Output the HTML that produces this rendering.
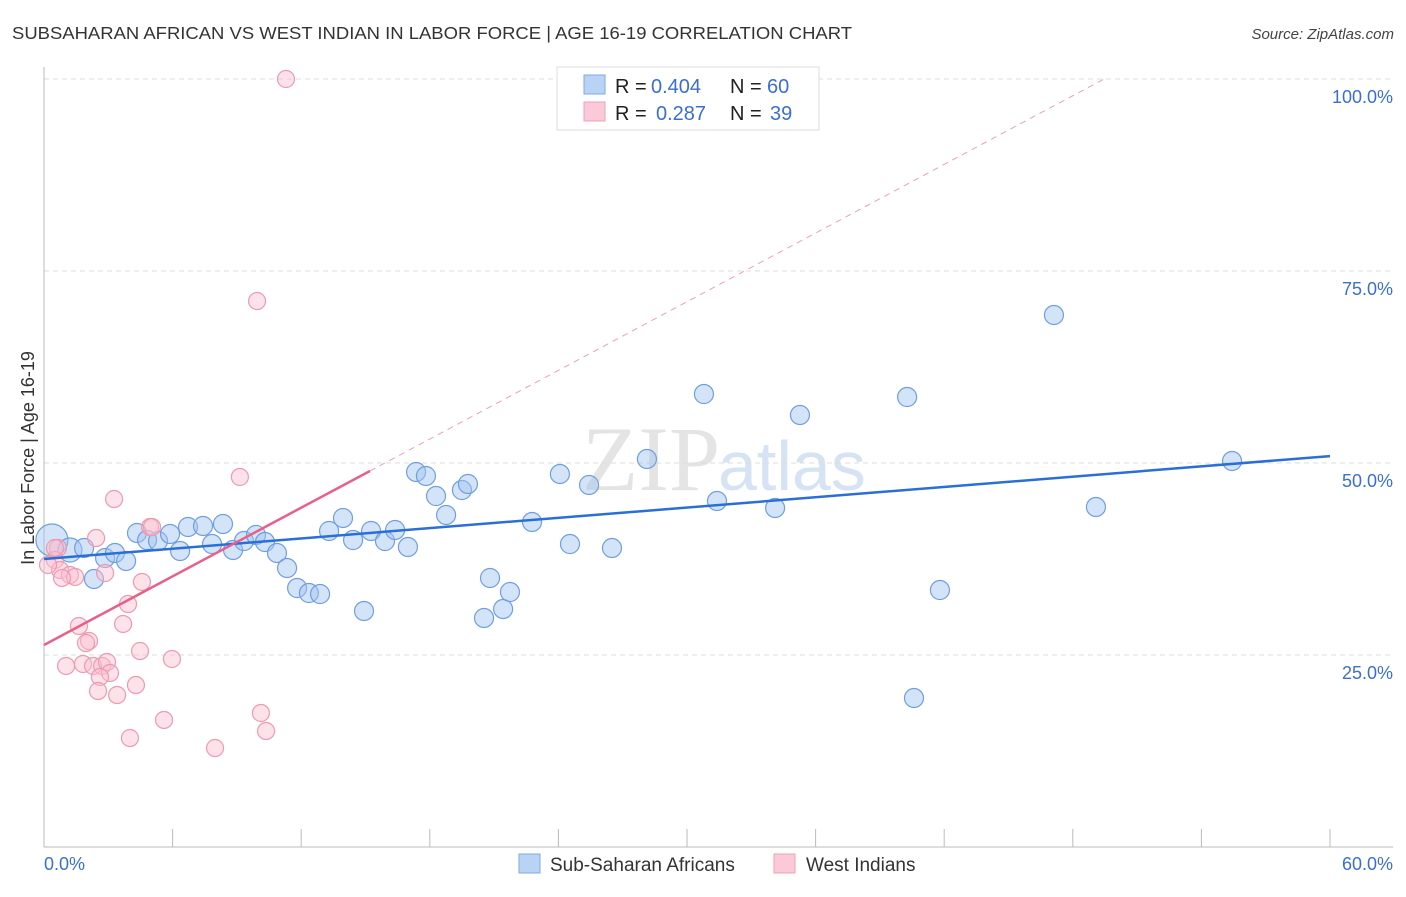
<!DOCTYPE html>
<html><head><meta charset="utf-8"><style>
body{margin:0;background:#fff;font-family:"Liberation Sans",sans-serif;}
</style></head><body>
<svg id="chart" width="1406" height="892" xmlns="http://www.w3.org/2000/svg" font-family="Liberation Sans, sans-serif">
<text x="12" y="39" font-size="17.5" fill="#333" textLength="840" lengthAdjust="spacingAndGlyphs">SUBSAHARAN AFRICAN VS WEST INDIAN IN LABOR FORCE | AGE 16-19 CORRELATION CHART</text>
<text x="1394" y="39" font-size="15" fill="#444" font-style="italic" text-anchor="end">Source: ZipAtlas.com</text>
<text x="720" y="490" font-size="92" fill="#e4e4e4" text-anchor="end" font-family="Liberation Serif, serif">ZIP</text>
<text x="718" y="490" font-size="70" fill="#d6e3f4">atlas</text>
<text transform="translate(34,458) rotate(-90)" font-size="18" fill="#333" text-anchor="middle">In Labor Force | Age 16-19</text>
<g id="grid"></g><g id="ticks"></g><g id="pts"></g><g id="lines"></g>
<g>
<rect x="557" y="67" width="262" height="63" fill="#fff" stroke="#ddd"/>
<rect x="584" y="75" width="21" height="19" fill="#b9d3f5" stroke="#7ea8e6"/>
<rect x="584" y="102" width="21" height="19" fill="#fbc9d7" stroke="#f0a0b7"/>
<text x="615" y="93" font-size="20" fill="#222">R =</text>
<text x="651" y="93" font-size="20" fill="#3a6fd0">0.404</text>
<text x="730" y="93" font-size="20" fill="#222">N =</text>
<text x="767" y="93" font-size="20" fill="#3a6fd0">60</text>
<text x="615" y="120" font-size="20" fill="#222">R =</text>
<text x="656" y="120" font-size="20" fill="#3a6fd0">0.287</text>
<text x="730" y="120" font-size="20" fill="#222">N =</text>
<text x="770" y="120" font-size="20" fill="#3a6fd0">39</text>
</g>
<g>
<rect x="519" y="854" width="21" height="19" fill="#b9d3f5" stroke="#7ea8e6"/>
<text x="550" y="871" font-size="19" fill="#333">Sub-Saharan Africans</text>
<rect x="774" y="854" width="21" height="19" fill="#fbc9d7" stroke="#f0a0b7"/>
<text x="806" y="871" font-size="19" fill="#333">West Indians</text>
</g>
</svg>
<script>
const yTicks=[25,50,75,100];
const yTickLabels=["25.0%","50.0%","75.0%","100.0%"];
const xTicks=[0,6,12,18,24,30,36,42,48,54,60];
const blueX=[0.37,1.21,1.87,2.33,2.85,3.31,3.83,4.34,4.81,5.32,5.88,6.35,6.72,7.42,7.84,8.35,8.82,9.33,9.89,10.31,10.87,11.34,11.81,12.36,12.88,13.30,13.95,14.42,14.93,15.26,15.91,16.38,16.98,17.36,17.82,18.29,18.76,19.50,19.78,20.53,20.81,21.42,21.74,22.77,24.07,24.54,25.43,26.50,28.13,30.79,31.40,34.11,35.27,40.27,40.59,41.80,47.12,49.08,55.43];
const blueY=[39.97,38.67,38.93,34.90,37.63,38.28,37.24,40.89,39.97,39.84,40.76,38.54,41.67,41.80,39.45,42.06,38.67,39.84,40.63,39.71,38.28,36.33,33.72,33.07,32.94,41.15,42.84,39.97,30.73,41.15,39.84,41.28,39.06,48.83,48.31,45.70,43.23,46.48,47.27,29.82,35.03,30.99,33.20,42.32,48.57,39.45,47.14,38.93,50.52,58.98,45.05,44.14,56.25,58.59,19.40,33.46,69.27,44.27,50.26];
const pinkX=[11.29,9.94,9.14,3.27,4.95,2.43,0.65,0.51,0.75,1.21,1.45,0.84,2.85,4.57,3.92,1.63,2.10,1.96,3.69,4.48,5.97,1.03,1.82,2.29,2.71,2.94,3.08,2.61,2.52,3.41,4.29,5.60,10.12,10.36,4.01,7.98,0.19,5.04,0.51];
const pinkY=[100,71.09,48.18,45.31,41.67,40.23,38.93,37.37,36.07,35.42,35.16,35.03,35.68,34.51,31.64,28.78,26.82,26.56,29.04,25.52,24.48,23.57,23.83,23.57,23.57,24.09,22.66,22.14,20.31,19.79,21.09,16.54,17.45,15.10,14.19,12.89,36.72,41.67,38.93];
const blueFit=[37.5,50.9];
const pinkFit=[26.3,1.49];
const NS="http://www.w3.org/2000/svg";
const sx=v=>44+v/60*1286, sy=v=>847-v*7.68;
function mk(t,a,p){const e=document.createElementNS(NS,t);for(const k in a)e.setAttribute(k,a[k]);p.appendChild(e);return e;}
const grid=document.getElementById('grid'),ticks=document.getElementById('ticks'),pts=document.getElementById('pts'),lines=document.getElementById('lines');
yTicks.forEach((v,i)=>{
 const l=mk('line',{x1:44,x2:1393,y1:sy(v),y2:sy(v),stroke:'#ddd','stroke-dasharray':'5,4'},grid);
 
 
 const t=mk('text',{x:1393,y:sy(v)+24,'font-size':18,fill:'#3a6fd0','text-anchor':'end'},grid);
 t.textContent=yTickLabels[i];
 
 
});
const ax=mk('line',{x1:44,x2:44,y1:67,y2:847,stroke:'#bbb'},ticks);


const bx=mk('line',{x1:44,x2:1393,y1:847,y2:847,stroke:'#bbb'},ticks);


xTicks.forEach(v=>{
 const l=mk('line',{x1:sx(v),x2:sx(v),y1:829,y2:847,stroke:'#bbb'},ticks);
 
 
});
const x0=mk('text',{x:44,y:870,'font-size':18,fill:'#3a6fd0'},ticks);x0.textContent='0.0%';


const x1=mk('text',{x:1393,y:870,'font-size':18,fill:'#3a6fd0','text-anchor':'end'},ticks);x1.textContent='60.0%';


blueX.forEach((x,i)=>{
 const r=i===0?16:(i===1?12:9.5);
 const c=mk('circle',{cx:sx(x),cy:sy(blueY[i]),r:r,fill:'rgba(160,195,240,0.45)',stroke:'#6f9ee0','stroke-width':1.2},pts);
 
 
});
pinkX.forEach((x,i)=>{
 const c=mk('circle',{cx:sx(x),cy:sy(pinkY[i]),r:8.5,fill:'rgba(250,190,208,0.45)',stroke:'#ec9ab3','stroke-width':1.2},pts);
 
 
});
const bl=mk('line',{x1:sx(0),y1:sy(blueFit[0]),x2:sx(60),y2:sy(blueFit[1]),stroke:'#2a6fd6','stroke-width':2.5},lines);


const xEnd=15.21, xTop=(100-pinkFit[0])/pinkFit[1];
const pl=mk('line',{x1:sx(0),y1:sy(pinkFit[0]),x2:sx(xEnd),y2:sy(pinkFit[0]+pinkFit[1]*xEnd),stroke:'#e8608a','stroke-width':2.5},lines);


const pd=mk('line',{x1:sx(xEnd),y1:sy(pinkFit[0]+pinkFit[1]*xEnd),x2:sx(xTop),y2:sy(100),stroke:'#eaa0b8','stroke-width':1,'stroke-dasharray':'6,5'},lines);


</script>
</body></html>
